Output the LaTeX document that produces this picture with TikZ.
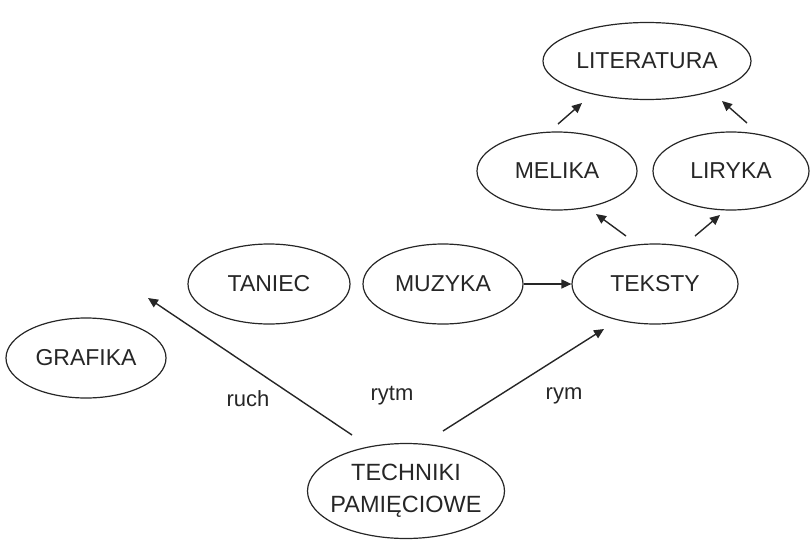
\documentclass[tikz,border=0pt]{standalone}
\usepackage{fontspec}
\setmainfont{Liberation Sans}
\usetikzlibrary{shapes.geometric,arrows.meta}
\begin{document}
\begin{tikzpicture}[x=1pt,y=-1pt,
  ell/.style={draw=black!85,line width=1.2pt,ellipse,inner sep=-10pt,font=\fontsize{23}{27}\selectfont,text=black!85},
  arr/.style={draw=black!85,line width=1.4pt,-{Triangle[length=10pt,width=9pt]}},
  lab/.style={font=\fontsize{22}{26}\selectfont,text=black!85}]
\useasboundingbox (0,0) rectangle (811,541);
\node[ell,minimum width=208,minimum height=77] (lit) at (647,61) {LITERATURA};
\node[ell,minimum width=160,minimum height=78] (mel) at (557,171) {MELIKA};
\node[ell,minimum width=156,minimum height=78] (lir) at (731,171) {LIRYKA};
\node[ell,minimum width=162,minimum height=80] (tan) at (269,284) {TANIEC};
\node[ell,minimum width=160,minimum height=80] (muz) at (443,284) {MUZYKA};
\node[ell,minimum width=166,minimum height=80] (tek) at (655,284) {TEKSTY};
\node[ell,minimum width=160,minimum height=80] (gra) at (86,358) {GRAFIKA};
\node[ell,minimum width=197,minimum height=95,align=center,font=\fontsize{23.5}{32}\selectfont] (tech) at (406,491) {TECHNIKI\\PAMIĘCIOWE};
\coordinate (a1s) at (558,124); \coordinate (a1e) at (582,103);
\coordinate (a2s) at (747,123); \coordinate (a2e) at (722,101);
\coordinate (a3s) at (626,236); \coordinate (a3e) at (596,214);
\coordinate (a4s) at (695,236); \coordinate (a4e) at (720,215);
\coordinate (a6s) at (352,435); \coordinate (a6e) at (148,298);
\coordinate (a7s) at (443,431); \coordinate (a7e) at (604,329);
\draw[arr] (a1s) -- (a1e);
\draw[arr] (a2s) -- (a2e);
\draw[arr] (a3s) -- (a3e);
\draw[arr] (a4s) -- (a4e);
\draw[arr] (muz.east) -- (tek.west);
\draw[arr] (a6s) -- (a6e);
\draw[arr] (a7s) -- (a7e);
\node[lab] (ruch) at (248,399) {ruch};
\node[lab] (rytm) at (392,396) {rytm};
\node[lab] (rym) at (564,396) {rym};
\end{tikzpicture}
\end{document}
